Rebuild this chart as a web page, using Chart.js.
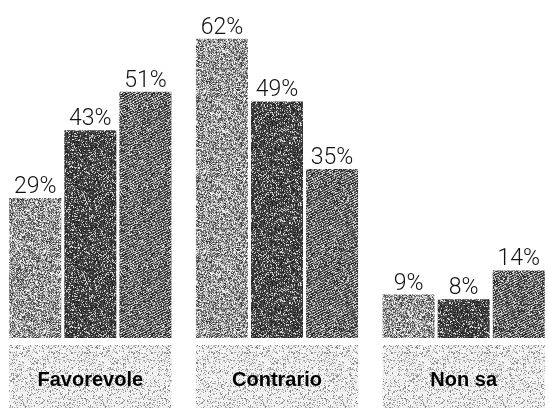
<!DOCTYPE html>
<html>
<head>
<meta charset="utf-8">
<script src="https://cdn.jsdelivr.net/npm/chart.js@4.4.1/dist/chart.umd.min.js"></script>
<style>
  html, body { margin: 0; padding: 0; background: #ffffff; }
  #wrap { position: relative; width: 548px; height: 408px; overflow: hidden; background: #ffffff; }
  #chart { position: absolute; left: -3px; top: 0; }
</style>
</head>
<body>
<div id="wrap"><canvas id="chart" width="560" height="408"></canvas></div>
<script>
// Survey answers, three groups of respondents per answer (percent)
const categories = ['Favorevole', 'Contrario', 'Non sa'];
const groupA = [29, 62, 9];
const groupB = [43, 49, 8];
const groupC = [51, 35, 14];
const valueSuffix = '%';

// Deterministic pixel hash for stippled, print-like fills
function hash(x, y, s) {
  let h = (x * 374761393 + y * 668265263 + s * 982451653) | 0;
  h = Math.imul(h ^ (h >>> 13), 1274126177);
  h = h ^ (h >>> 16);
  return ((h >>> 0) % 10000) / 10000;
}
function hash2(x, y, s) { return hash(y * 7 + 3, x * 13 + 5, s + 17); }
const clamp = v => Math.max(0, Math.min(255, v));

function stipple(size, seed, shadeFn) {
  const c = document.createElement('canvas');
  c.width = size; c.height = size;
  const g = c.getContext('2d');
  const img = g.createImageData(size, size);
  for (let y = 0; y < size; y++) {
    for (let x = 0; x < size; x++) {
      const v = clamp(shadeFn(x, y, hash(x, y, seed), hash2(x, y, seed)));
      const i = (y * size + x) * 4;
      img.data[i] = img.data[i + 1] = img.data[i + 2] = v;
      img.data[i + 3] = 255;
    }
  }
  g.putImageData(img, 0, 0);
  return g.createPattern(c, 'repeat');
}

// Light grain
const fillA = stipple(80, 1, (x, y, r, q) => 155 + (r - 0.5) * 210);
// Dark grain with pale flecks
const fillB = stipple(80, 2, (x, y, r, q) => q < 0.2 ? 170 + r * 60 : 25 + r * 70);
// Medium-dark diagonal weave
const fillC = stipple(80, 3, (x, y, r, q) => {
  const dark = ((x + 2 * y) % 5) < 3;
  const flip = q < 0.15;
  return (dark !== flip) ? 30 + r * 60 : 140 + r * 90;
});
// Pale grain for the answer boxes
const fillBox = stipple(80, 4, (x, y, r, q) => q < 0.22 ? 120 + r * 70 : 228 + r * 27);

const boxesAndLabels = {
  id: 'boxesAndLabels',
  beforeDatasetsDraw(chart) {
    const ctx = chart.ctx;
    const area = chart.chartArea;
    const first = chart.getDatasetMeta(0);
    const last = chart.getDatasetMeta(chart.data.datasets.length - 1);
    ctx.save();
    categories.forEach((name, i) => {
      const b0 = first.data[i], b2 = last.data[i];
      const left = b0.x - b0.width / 2;
      const right = b2.x + b2.width / 2;
      const top = area.bottom + 7;
      ctx.fillStyle = fillBox;
      ctx.fillRect(left, top, right - left, chart.height - top);
      ctx.fillStyle = '#000000';
      ctx.font = 'bold 20px "Liberation Sans", Arial, sans-serif';
      ctx.textAlign = 'center';
      ctx.textBaseline = 'middle';
      ctx.fillText(name, (left + right) / 2, area.bottom + 42);
    });
    ctx.restore();
  },
  afterDatasetsDraw(chart) {
    const ctx = chart.ctx;
    ctx.save();
    ctx.fillStyle = '#111111';
    ctx.font = '300 23px Roboto, "Liberation Sans", sans-serif';
    ctx.textAlign = 'center';
    ctx.textBaseline = 'alphabetic';
    chart.data.datasets.forEach((ds, d) => {
      chart.getDatasetMeta(d).data.forEach((bar, i) => {
        ctx.fillText(ds.data[i] + valueSuffix, bar.x, bar.y - 5);
      });
    });
    ctx.restore();
  }
};

new Chart(document.getElementById('chart'), {
  type: 'bar',
  data: {
    labels: categories,
    datasets: [
      { data: groupA, backgroundColor: fillA },
      { data: groupB, backgroundColor: fillB },
      { data: groupC, backgroundColor: fillC }
    ]
  },
  options: {
    responsive: false,
    animation: false,
    layout: { padding: { top: 0, bottom: 70, left: 0, right: 0 } },
    datasets: { bar: { categoryPercentage: 0.885, barPercentage: 0.945, borderWidth: 0 } },
    plugins: { legend: { display: false }, tooltip: { enabled: false } },
    scales: {
      x: { display: false },
      y: { display: false, min: 0, max: 70 }
    }
  },
  plugins: [boxesAndLabels]
});
</script>
</body>
</html>
